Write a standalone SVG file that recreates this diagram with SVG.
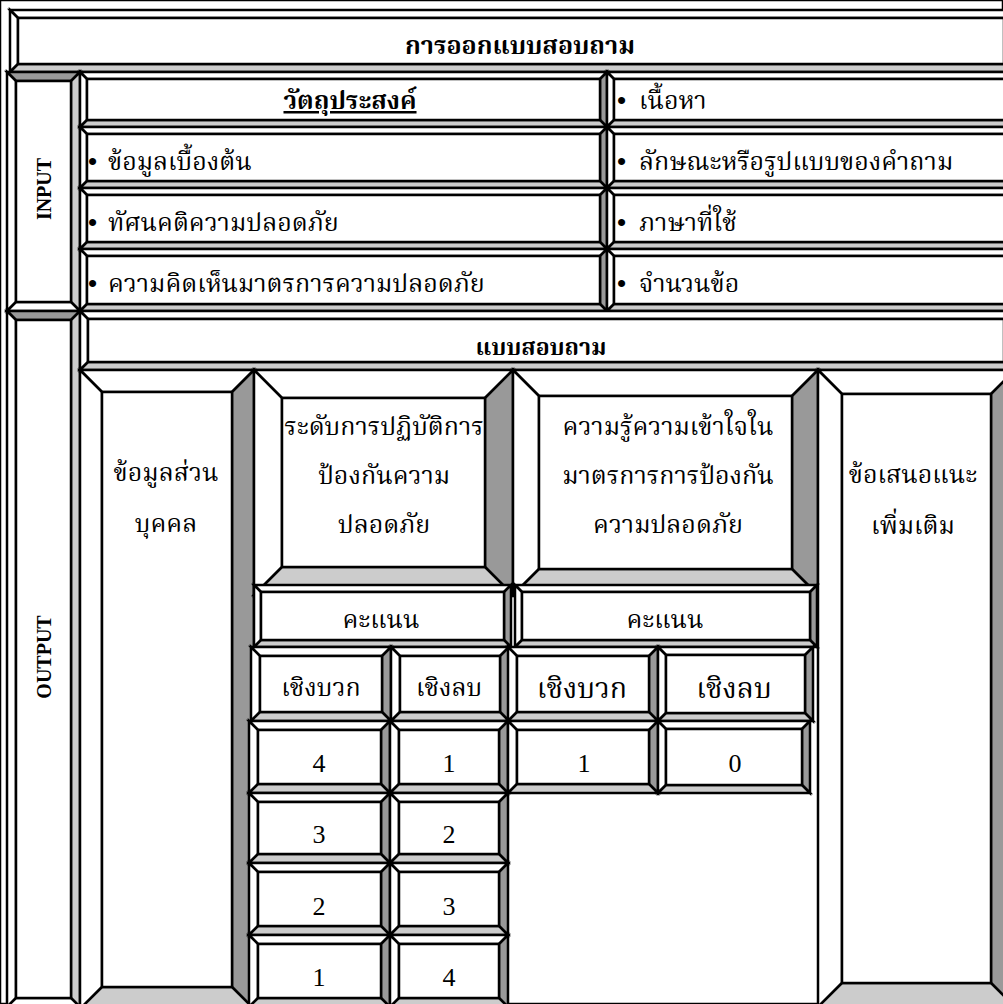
<svg xmlns="http://www.w3.org/2000/svg" width="1003" height="1004" viewBox="0 0 1003 1004">
<style>
polygon, rect { stroke:#000; stroke-width:2.5; stroke-linejoin:miter; }
.w { fill:#fff; }
.d { fill:#999; }
.g { fill:#ccc; }
text { font-family:'Liberation Serif','Laksaman','Norasi','Kinnari','Noto Serif Thai','Noto Sans Thai Looped','Noto Sans Thai',serif; fill:#000; }
.th { font-size:25px; }
.thb { font-size:25px; font-weight:bold; }
.hb { font-size:23px; font-weight:bold; }
.th3 { font-size:28.5px; }
.bul { font-family:'Liberation Sans',sans-serif; font-size:26px; }
.lat { font-family:'Liberation Serif',serif; font-size:20px; font-weight:bold; }
.num { font-family:'Liberation Serif',serif; font-size:26px; }
.c { text-anchor:middle; }
</style>
<rect x="0" y="0" width="1003" height="1004" fill="#fff" stroke="none"/>

<g id="title">
<polygon class="w" points="10,10 1012,10 1004,18 18,18"/>
<polygon class="w" points="10,10 18,18 18,64 10,72"/>
<polygon class="d" points="1012,10 1012,72 1004,64 1004,18"/>
<polygon class="g" points="10,72 18,64 1004,64 1012,72"/>
<rect class="w" x="18" y="18" width="986" height="46"/>
<text class="thb c" x="520" y="54">การออกแบบสอบถาม</text>
</g>

<g id="input">
<polygon class="d" points="7,72 80,72 71,81 16,81"/>
<polygon class="w" points="7,72 16,81 16,302 7,311"/>
<polygon class="g" points="80,72 80,311 71,302 71,81"/>
<polygon class="w" points="7,311 16,302 71,302 80,311"/>
<rect class="w" x="16" y="81" width="55" height="221"/>
<text class="lat c" transform="translate(51,189) rotate(-90)">INPUT</text>
</g>

<g id="output">
<polygon class="d" points="7,311 80,311 71,320 16,320"/>
<polygon class="w" points="7,311 16,320 16,998 7,1007"/>
<polygon class="g" points="80,311 80,1007 71,998 71,320"/>
<polygon class="w" points="7,1007 16,998 71,998 80,1007"/>
<rect class="w" x="16" y="320" width="55" height="678"/>
<text class="lat c" transform="translate(51,657) rotate(-90)">OUTPUT</text>
</g>

<g id="in-l1">
<polygon class="w" points="80,72 607,72 600,79 87,79"/>
<polygon class="w" points="80,72 87,79 87,120 80,127"/>
<polygon class="d" points="607,72 607,127 600,120 600,79"/>
<polygon class="g" points="80,127 87,120 600,120 607,127"/>
<rect class="w" x="87" y="79" width="513" height="41"/>
<text class="thb c" x="350" y="109" text-decoration="underline">วัตถุประสงค์</text>
</g>
<g id="in-r1">
<polygon class="w" points="607,72 1012,72 1005,79 614,79"/>
<polygon class="w" points="607,72 614,79 614,120 607,127"/>
<polygon class="d" points="1012,72 1012,127 1005,120 1005,79"/>
<polygon class="g" points="607,127 614,120 1005,120 1012,127"/>
<rect class="w" x="614" y="79" width="391" height="41"/>
<text class="th" x="617" y="109"><tspan class="bul">•</tspan><tspan x="639">เนื้อหา</tspan></text>
</g>

<g id="in-l2">
<polygon class="w" points="80,127 607,127 600,134 87,134"/>
<polygon class="w" points="80,127 87,134 87,181 80,188"/>
<polygon class="d" points="607,127 607,188 600,181 600,134"/>
<polygon class="g" points="80,188 87,181 600,181 607,188"/>
<rect class="w" x="87" y="134" width="513" height="47"/>
<text class="th" x="88" y="170"><tspan class="bul">•</tspan><tspan x="108">ข้อมูลเบื้องต้น</tspan></text>
</g>
<g id="in-r2">
<polygon class="w" points="607,127 1012,127 1005,134 614,134"/>
<polygon class="w" points="607,127 614,134 614,181 607,188"/>
<polygon class="d" points="1012,127 1012,188 1005,181 1005,134"/>
<polygon class="g" points="607,188 614,181 1005,181 1012,188"/>
<rect class="w" x="614" y="134" width="391" height="47"/>
<text class="th" x="617" y="170"><tspan class="bul">•</tspan><tspan x="639">ลักษณะหรือรูปแบบของคำถาม</tspan></text>
</g>

<g id="in-l3">
<polygon class="w" points="80,188 607,188 600,195 87,195"/>
<polygon class="w" points="80,188 87,195 87,242 80,249"/>
<polygon class="d" points="607,188 607,249 600,242 600,195"/>
<polygon class="g" points="80,249 87,242 600,242 607,249"/>
<rect class="w" x="87" y="195" width="513" height="47"/>
<text class="th" x="88" y="231"><tspan class="bul">•</tspan><tspan x="108">ทัศนคติความปลอดภัย</tspan></text>
</g>
<g id="in-r3">
<polygon class="w" points="607,188 1012,188 1005,195 614,195"/>
<polygon class="w" points="607,188 614,195 614,242 607,249"/>
<polygon class="d" points="1012,188 1012,249 1005,242 1005,195"/>
<polygon class="g" points="607,249 614,242 1005,242 1012,249"/>
<rect class="w" x="614" y="195" width="391" height="47"/>
<text class="th" x="617" y="231"><tspan class="bul">•</tspan><tspan x="639">ภาษาที่ใช้</tspan></text>
</g>

<g id="in-l4">
<polygon class="w" points="80,249 607,249 600,256 87,256"/>
<polygon class="w" points="80,249 87,256 87,304 80,311"/>
<polygon class="d" points="607,249 607,311 600,304 600,256"/>
<polygon class="g" points="80,311 87,304 600,304 607,311"/>
<rect class="w" x="87" y="256" width="513" height="48"/>
<text class="th" x="88" y="292"><tspan class="bul">•</tspan><tspan x="108">ความคิดเห็นมาตรการความปลอดภัย</tspan></text>
</g>
<g id="in-r4">
<polygon class="w" points="607,249 1012,249 1005,256 614,256"/>
<polygon class="w" points="607,249 614,256 614,304 607,311"/>
<polygon class="d" points="1012,249 1012,311 1005,304 1005,256"/>
<polygon class="g" points="607,311 614,304 1005,304 1012,311"/>
<rect class="w" x="614" y="256" width="391" height="48"/>
<text class="th" x="617" y="292"><tspan class="bul">•</tspan><tspan x="639">จำนวนข้อ</tspan></text>
</g>

<g id="header">
<polygon class="w" points="80,311 1012,311 1004,319 88,319"/>
<polygon class="w" points="80,311 88,319 88,362 80,370"/>
<polygon class="d" points="1012,311 1012,370 1004,362 1004,319"/>
<polygon class="g" points="80,370 88,362 1004,362 1012,370"/>
<rect class="w" x="88" y="319" width="916" height="43"/>
<text class="hb c" x="541" y="355">แบบสอบถาม</text>
</g>

<g id="col-personal">
<polygon class="w" points="80,370 254,370 232,392 102,392"/>
<polygon class="w" points="80,370 102,392 102,987 80,1009"/>
<polygon class="d" points="254,370 254,1009 232,987 232,392"/>
<polygon class="g" points="80,1009 102,987 232,987 254,1009"/>
<rect class="w" x="102" y="392" width="130" height="595"/>
<text class="th c" x="166" y="481">ข้อมูลส่วน</text>
<text class="th c" x="166" y="532">บุคคล</text>
</g>

<g id="col-practice">
<polygon class="w" points="254,370 513,370 485,398 282,398"/>
<polygon class="w" points="254,370 282,398 282,567 254,595"/>
<polygon class="d" points="513,370 513,595 485,567 485,398"/>
<polygon class="g" points="254,595 282,567 485,567 513,595"/>
<rect class="w" x="282" y="398" width="203" height="169"/>
<text class="th c" x="384" y="435">ระดับการปฏิบัติการ</text>
<text class="th c" x="384" y="484">ป้องกันความ</text>
<text class="th c" x="384" y="533">ปลอดภัย</text>
</g>

<g id="col-knowledge">
<polygon class="w" points="513,370 818,370 792,396 539,396"/>
<polygon class="w" points="513,370 539,396 539,569 513,595"/>
<polygon class="d" points="818,370 818,595 792,569 792,396"/>
<polygon class="g" points="513,595 539,569 792,569 818,595"/>
<rect class="w" x="539" y="396" width="253" height="173"/>
<text class="th c" x="668" y="435">ความรู้ความเข้าใจใน</text>
<text class="th c" x="668" y="484">มาตรการการป้องกัน</text>
<text class="th c" x="668" y="533">ความปลอดภัย</text>
</g>

<g id="col-suggest">
<polygon class="w" points="818,370 1015,370 991,394 842,394"/>
<polygon class="w" points="818,370 842,394 842,983 818,1007"/>
<polygon class="d" points="1015,370 1015,1007 991,983 991,394"/>
<polygon class="g" points="818,1007 842,983 991,983 1015,1007"/>
<rect class="w" x="842" y="394" width="149" height="589"/>
<text class="th c" x="913" y="483">ข้อเสนอแนะ</text>
<text class="th c" x="913" y="534">เพิ่มเติม</text>
</g>

<g id="score-practice">
<polygon class="w" points="254,585 511,585 504,592 261,592"/>
<polygon class="w" points="254,585 261,592 261,640 254,647"/>
<polygon class="d" points="511,585 511,647 504,640 504,592"/>
<polygon class="g" points="254,647 261,640 504,640 511,647"/>
<rect class="w" x="261" y="592" width="243" height="48"/>
<text class="th c" x="381" y="628">คะแนน</text>
</g>
<g id="score-knowledge">
<polygon class="w" points="515,585 817,585 810,592 522,592"/>
<polygon class="w" points="515,585 522,592 522,640 515,647"/>
<polygon class="d" points="817,585 817,647 810,640 810,592"/>
<polygon class="g" points="515,647 522,640 810,640 817,647"/>
<rect class="w" x="522" y="592" width="288" height="48"/>
<text class="th c" x="665" y="628">คะแนน</text>
</g>

<g id="pos-practice">
<polygon class="w" points="251,647 391,647 382,656 260,656"/>
<polygon class="w" points="251,647 260,656 260,712 251,721"/>
<polygon class="d" points="391,647 391,721 382,712 382,656"/>
<polygon class="g" points="251,721 260,712 382,712 391,721"/>
<rect class="w" x="260" y="656" width="122" height="56"/>
<text class="th c" x="321" y="696">เชิงบวก</text>
</g>
<g id="neg-practice">
<polygon class="w" points="391,647 509,647 500,656 400,656"/>
<polygon class="w" points="391,647 400,656 400,712 391,721"/>
<polygon class="d" points="509,647 509,721 500,712 500,656"/>
<polygon class="g" points="391,721 400,712 500,712 509,721"/>
<rect class="w" x="400" y="656" width="100" height="56"/>
<text class="th c" x="449" y="696">เชิงลบ</text>
</g>
<g id="pos-knowledge">
<polygon class="w" points="508,647 658,647 649,656 517,656"/>
<polygon class="w" points="508,647 517,656 517,712 508,721"/>
<polygon class="d" points="658,647 658,721 649,712 649,656"/>
<polygon class="g" points="508,721 517,712 649,712 658,721"/>
<rect class="w" x="517" y="656" width="132" height="56"/>
<text class="th3 c" x="582" y="698">เชิงบวก</text>
</g>
<g id="neg-knowledge">
<polygon class="w" points="658,647 813,647 805,655 666,655"/>
<polygon class="w" points="658,647 666,655 666,713 658,721"/>
<polygon class="d" points="813,647 813,721 805,713 805,655"/>
<polygon class="g" points="658,721 666,713 805,713 813,721"/>
<rect class="w" x="666" y="655" width="139" height="58"/>
<text class="th3 c" x="734" y="698">เชิงลบ</text>
</g>

<g id="p-r1-pos">
<polygon class="w" points="249,721 390,721 381,730 258,730"/>
<polygon class="w" points="249,721 258,730 258,784 249,793"/>
<polygon class="d" points="390,721 390,793 381,784 381,730"/>
<polygon class="g" points="249,793 258,784 381,784 390,793"/>
<rect class="w" x="258" y="730" width="123" height="54"/>
<text class="num c" x="319" y="772">4</text>
</g>
<g id="p-r1-neg">
<polygon class="w" points="390,721 508,721 499,730 399,730"/>
<polygon class="w" points="390,721 399,730 399,784 390,793"/>
<polygon class="d" points="508,721 508,793 499,784 499,730"/>
<polygon class="g" points="390,793 399,784 499,784 508,793"/>
<rect class="w" x="399" y="730" width="100" height="54"/>
<text class="num c" x="449" y="772">1</text>
</g>
<g id="k-r1-pos">
<polygon class="w" points="508,721 658,721 649,730 517,730"/>
<polygon class="w" points="508,721 517,730 517,784 508,793"/>
<polygon class="d" points="658,721 658,793 649,784 649,730"/>
<polygon class="g" points="508,793 517,784 649,784 658,793"/>
<rect class="w" x="517" y="730" width="132" height="54"/>
<text class="num c" x="584" y="772">1</text>
</g>
<g id="k-r1-neg">
<polygon class="w" points="658,721 810,721 802,729 666,729"/>
<polygon class="w" points="658,721 666,729 666,785 658,793"/>
<polygon class="d" points="810,721 810,793 802,785 802,729"/>
<polygon class="g" points="658,793 666,785 802,785 810,793"/>
<rect class="w" x="666" y="729" width="136" height="56"/>
<text class="num c" x="735" y="772">0</text>
</g>

<g id="p-r2-pos">
<polygon class="w" points="249,793 390,793 381,802 258,802"/>
<polygon class="w" points="249,793 258,802 258,854 249,863"/>
<polygon class="d" points="390,793 390,863 381,854 381,802"/>
<polygon class="g" points="249,863 258,854 381,854 390,863"/>
<rect class="w" x="258" y="802" width="123" height="52"/>
<text class="num c" x="319" y="843">3</text>
</g>
<g id="p-r2-neg">
<polygon class="w" points="390,793 508,793 499,802 399,802"/>
<polygon class="w" points="390,793 399,802 399,854 390,863"/>
<polygon class="d" points="508,793 508,863 499,854 499,802"/>
<polygon class="g" points="390,863 399,854 499,854 508,863"/>
<rect class="w" x="399" y="802" width="100" height="52"/>
<text class="num c" x="449" y="843">2</text>
</g>

<g id="p-r3-pos">
<polygon class="w" points="249,863 390,863 381,872 258,872"/>
<polygon class="w" points="249,863 258,872 258,926 249,935"/>
<polygon class="d" points="390,863 390,935 381,926 381,872"/>
<polygon class="g" points="249,935 258,926 381,926 390,935"/>
<rect class="w" x="258" y="872" width="123" height="54"/>
<text class="num c" x="319" y="915">2</text>
</g>
<g id="p-r3-neg">
<polygon class="w" points="390,863 508,863 499,872 399,872"/>
<polygon class="w" points="390,863 399,872 399,926 390,935"/>
<polygon class="d" points="508,863 508,935 499,926 499,872"/>
<polygon class="g" points="390,935 399,926 499,926 508,935"/>
<rect class="w" x="399" y="872" width="100" height="54"/>
<text class="num c" x="449" y="915">3</text>
</g>

<g id="p-r4-pos">
<polygon class="w" points="249,935 390,935 381,944 258,944"/>
<polygon class="w" points="249,935 258,944 258,998 249,1007"/>
<polygon class="d" points="390,935 390,1007 381,998 381,944"/>
<polygon class="g" points="249,1007 258,998 381,998 390,1007"/>
<rect class="w" x="258" y="944" width="123" height="54"/>
<text class="num c" x="319" y="986">1</text>
</g>
<g id="p-r4-neg">
<polygon class="w" points="390,935 508,935 499,944 399,944"/>
<polygon class="w" points="390,935 399,944 399,998 390,1007"/>
<polygon class="d" points="508,935 508,1007 499,998 499,944"/>
<polygon class="g" points="390,1007 399,998 499,998 508,1007"/>
<rect class="w" x="399" y="944" width="100" height="54"/>
<text class="num c" x="449" y="986">4</text>
</g>

<g id="connectors"></g>
</svg>
